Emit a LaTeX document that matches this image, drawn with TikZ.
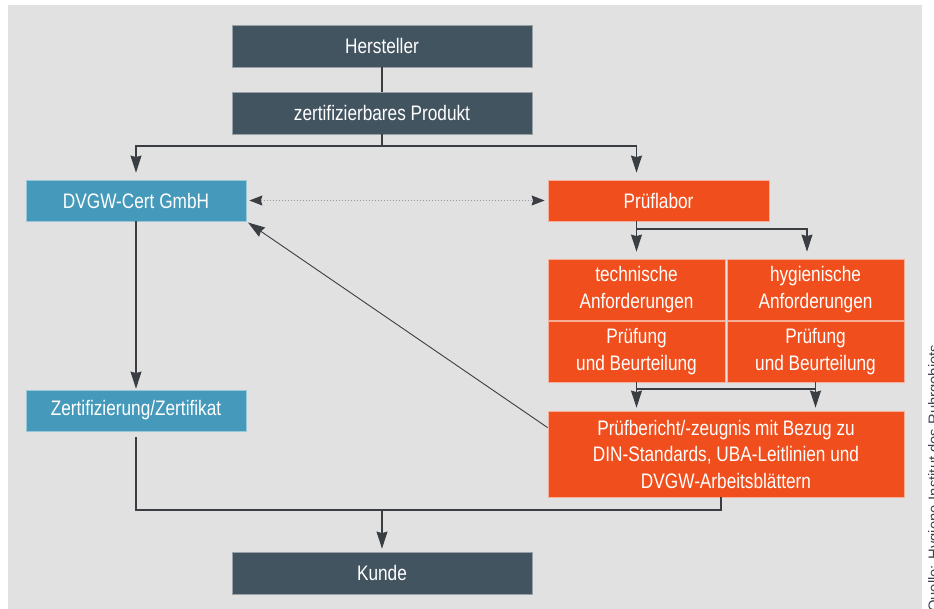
\documentclass[tikz,border=0pt]{standalone}
\usepackage{fontspec}
\setmainfont{Liberation Sans}[FakeStretch=0.82]
\newfontfamily\srcfont{Liberation Sans}
\usetikzlibrary{arrows.meta}
\definecolor{slate}{HTML}{435461}
\definecolor{certblue}{HTML}{4599BA}
\definecolor{laborange}{HTML}{F04E1C}
\definecolor{panel}{HTML}{E1E1E1}
\definecolor{wire}{HTML}{3A3D42}
\definecolor{srcgray}{HTML}{3A4450}
\tikzset{
  box/.style={minimum height=42pt, inner sep=0pt, text=white, align=center,
    font=\fontsize{21}{26.5}\selectfont, line width=0.8pt},
  darkbox/.style={box, fill=slate, draw=slate!55!white, minimum width=300pt},
  certbox/.style={box, fill=certblue, draw=certblue!55!white, minimum width=220pt, minimum height=41pt},
  labbox/.style={box, fill=laborange, draw=laborange!45!white},
  line/.style={draw=wire, line width=1.1pt},
  arrow/.style={line, -{Stealth[length=17pt,width=11pt,inset=1.5pt]}, shorten >=3pt},
  dotarrow/.style={draw=gray!80, line width=1pt, dotted, shorten <=3pt, shorten >=3pt,
    {Stealth[length=13pt,width=10pt,inset=1.5pt,color=wire]}-{Stealth[length=13pt,width=10pt,inset=1.5pt,color=wire]}}
}
\begin{document}
\begin{tikzpicture}[x=1pt,y=-1pt]
\useasboundingbox (0,0) rectangle (934,609);
\fill[panel] (8,5) rectangle (922,615);
% boxes
\node[darkbox] (herst) at (382,46) {Hersteller};
\node[darkbox] (prod) at (382,113) {zertifizierbares Produkt};
\node[certbox] (cert) at (136,200.5) {DVGW-Cert GmbH};
\node[labbox, minimum width=221pt, minimum height=41pt] (labor) at (658.5,200.5) {Prüflabor};
\node[labbox, minimum width=177pt, minimum height=61pt] (tech) at (636.5,289.5) {technische\\Anforderungen};
\node[labbox, minimum width=177pt, minimum height=61pt] (hyg) at (815.5,289.5) {hygienische\\Anforderungen};
\node[labbox, minimum width=177pt, minimum height=61pt] (pruefa) at (636.5,351.5) {Prüfung\\und Beurteilung};
\node[labbox, minimum width=177pt, minimum height=61pt] (pruefb) at (815.5,351.5) {Prüfung\\und Beurteilung};
\node[labbox, minimum width=356pt, minimum height=86pt] (report) at (726,454)
  {Prüfbericht/-zeugnis mit Bezug zu\\DIN-Standards, UBA-Leitlinien und\\DVGW-Arbeitsblättern};
\node[certbox] (zert) at (136,410.5) {Zertifizierung/Zertifikat};
\node[darkbox] (kunde) at (382,573) {Kunde};
\node[rotate=90, anchor=north west, inner sep=0pt, text=srcgray,
  font=\srcfont\fontsize{14.8}{16}\selectfont] (src) at (928,612) {Quelle: Hygiene-Institut des Ruhrgebiets};
% connectors
\coordinate (fork) at (382,146);
\coordinate (labsplit) at (636.5,229);
\coordinate (gridjoin) at (636.5,389);
\coordinate (merge) at (382,510);
\draw[line] (herst) -- (prod);
\draw[line] (prod) -- (fork);
\draw[arrow, shorten >=7pt] (fork) -| (cert);
\draw[arrow, shorten >=7pt] (fork) -| ([xshift=-22pt]labor.north);
\draw[dotarrow] (cert) -- (labor);
\draw[arrow, shorten >=7pt] (labor.south -| tech) -- (tech.north);
\draw[arrow, shorten >=7pt] (labsplit) -| ([xshift=-8.5pt]hyg.north);
\draw[arrow] (pruefa.south) -- (pruefa.south |- report.north);
\draw[line] (gridjoin) -| (pruefb.south);
\draw[arrow] (pruefb.south) -- (pruefb.south |- report.north);
\draw[arrow, line width=0.9pt, shorten >=2pt] ([yshift=-17pt]report.north west) -- (cert.south east);
\draw[arrow, shorten >=1pt] (cert) -- (zert);
\draw[line] ([yshift=-6pt]zert.south) |- (merge) -| ([xshift=-5pt]report.south);
\draw[arrow] (merge) -- (kunde);
\end{tikzpicture}
\end{document}
